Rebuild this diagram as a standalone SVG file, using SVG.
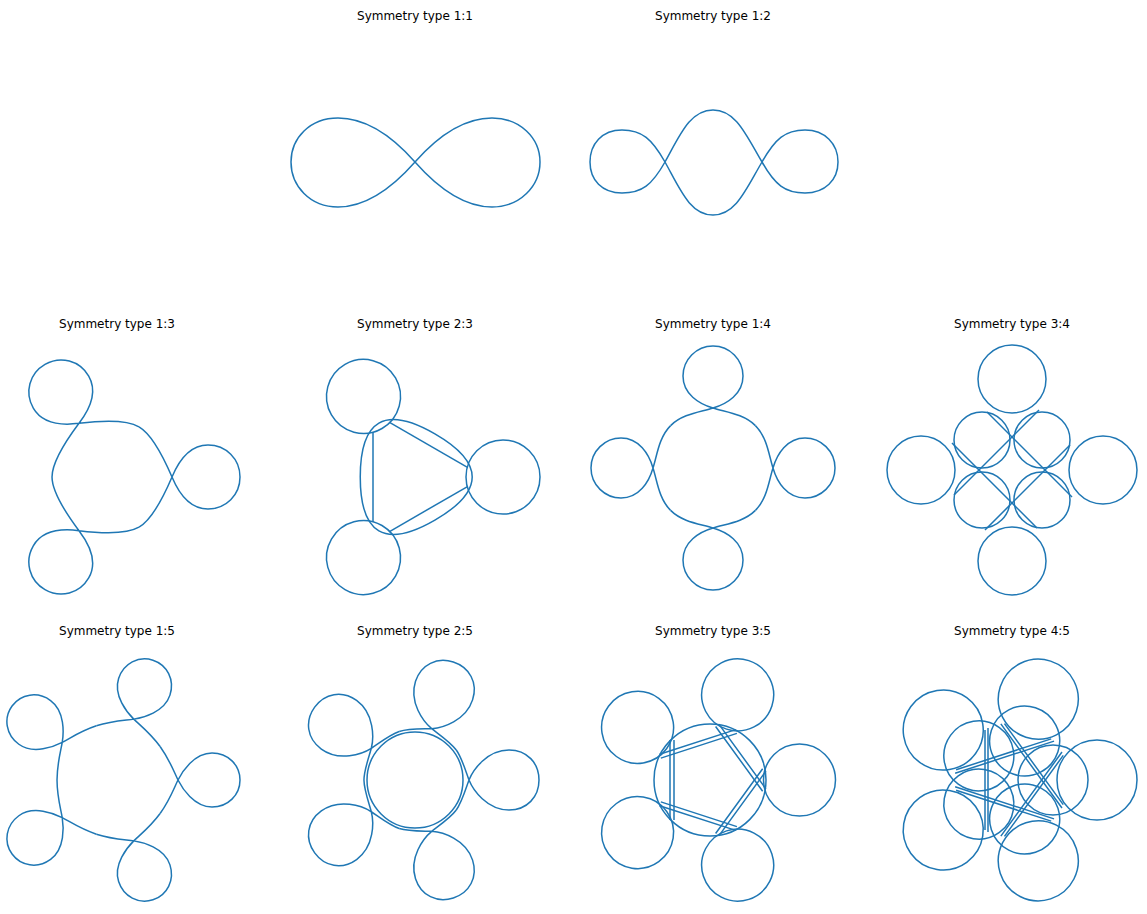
<svg xmlns="http://www.w3.org/2000/svg" xmlns:xlink="http://www.w3.org/1999/xlink" width="1147" height="914" viewBox="0 0 1147 914">
<style>
.c{fill:none;stroke:#1f77b4;stroke-width:1.5;stroke-linejoin:round}
.t{font-family:"DejaVu Sans",sans-serif;font-size:12px;text-anchor:middle;fill:#000}
</style>
<defs>
<path id="a13" d="M29,50.2 C44,41.5 56,14 62,0 C67,-12 78,-32 98,-32 C116,-32 130,-18 130,0 C130,18 116,32 98,32 C78,32 67,12 62,0 C56,-14 44,-41.5 29,-50.2"/>
<path id="a14" d="M42.4,42.4 C54.4,30.4 56,12 60,0 C64,-14 74,-30 92,-30 C108,-30 122,-17 122,0 C122,17 108,30 92,30 C74,30 64,14 60,0 C56,-12 54.4,-30.4 42.4,-42.4"/>
<path id="a15" d="M46.1,33.5 C56,19.7 60,8 64,0 C68,-8 80,-27 98,-27 C114,-27 126,-15 126,0 C126,15 114,27 98,27 C80,27 68,8 64,0 C60,-8 56,-19.7 46.1,-33.5"/>
<path id="a25" d="M41.3,30 C47,22 51,8 54,0 C58,-10 72,-30 94,-30 C112,-30 124,-17 124,0 C124,17 112,30 94,30 C72,30 58,10 54,0 C51,-8 47,-22 41.3,-30"/>
<g id="u23"><circle cx="93" cy="0" r="37"/><path d="M-37,-45 L-37,45"/></g>
<g id="u34"><circle cx="91" cy="0" r="34"/><circle cx="30" cy="30" r="28"/><path d="M-25,-58 L60,27"/></g>
<g id="u35"><circle cx="89.5" cy="0" r="36"/><path d="M-36,-40 L-36,40 M-40,-40 L-40,40"/></g>
<g id="u45"><circle cx="85" cy="0" r="40"/><circle cx="41" cy="0" r="35"/><path d="M-24,-52 L-24,52 M-27,-50 L-27,50"/></g>
</defs>
<g id="titles">
<text class="t" x="415" y="20">Symmetry type 1:1</text>
<text class="t" x="713" y="20">Symmetry type 1:2</text>
<text class="t" x="117" y="328">Symmetry type 1:3</text>
<text class="t" x="415" y="328">Symmetry type 2:3</text>
<text class="t" x="713" y="328">Symmetry type 1:4</text>
<text class="t" x="1012" y="328">Symmetry type 3:4</text>
<text class="t" x="117" y="635">Symmetry type 1:5</text>
<text class="t" x="415" y="635">Symmetry type 2:5</text>
<text class="t" x="713" y="635">Symmetry type 3:5</text>
<text class="t" x="1012" y="635">Symmetry type 4:5</text>
</g>
<g id="p11" class="c"><path d="M415,162 C445,128 470,118 492,118 C520,118 540,138 540,162 C540,186 520,207 492,207 C470,207 445,196 415,162 C385,128 360,118 338,118 C310,118 291,138 291,162 C291,186 310,207 338,207 C360,207 385,196 415,162 Z"/></g>
<g id="p12" class="c"><path d="M665,162 C680,135 690,110 713,110 C736,110 746,135 762,162 C775,185 785,193 805,193 C825,193 838,180 838,162 C838,144 825,130 805,130 C785,130 775,139 762,162 C746,189 736,215 713,215 C690,215 680,189 665,162 C652,139 642,130 622,130 C602,130 590,144 590,162 C590,180 602,193 622,193 C642,193 652,185 665,162 Z"/></g>
<g id="p13" class="c" transform="translate(110,477)"><use xlink:href="#a13"/><use xlink:href="#a13" transform="rotate(120)"/><use xlink:href="#a13" transform="rotate(240)"/></g>
<g id="p23" class="c" transform="translate(410,477)"><use xlink:href="#u23"/><use xlink:href="#u23" transform="rotate(120)"/><use xlink:href="#u23" transform="rotate(240)"/>
<path d="M24.9,43.1 Q-49.75,86.2 -49.75,0 Q-49.75,-86.2 24.9,-43.1 Q99.5,0 24.9,43.1 Z"/></g>
<g id="p14" class="c" transform="translate(713,468)"><use xlink:href="#a14"/><use xlink:href="#a14" transform="rotate(90)"/><use xlink:href="#a14" transform="rotate(180)"/><use xlink:href="#a14" transform="rotate(270)"/></g>
<g id="p34" class="c" transform="translate(1012,470)"><use xlink:href="#u34"/><use xlink:href="#u34" transform="rotate(90)"/><use xlink:href="#u34" transform="rotate(180)"/><use xlink:href="#u34" transform="rotate(270)"/></g>
<g id="p15" class="c" transform="translate(114,780)"><use xlink:href="#a15"/><use xlink:href="#a15" transform="rotate(72)"/><use xlink:href="#a15" transform="rotate(144)"/><use xlink:href="#a15" transform="rotate(216)"/><use xlink:href="#a15" transform="rotate(288)"/></g>
<g id="p25" class="c" transform="translate(415,780)"><use xlink:href="#a25"/><use xlink:href="#a25" transform="rotate(72)"/><use xlink:href="#a25" transform="rotate(144)"/><use xlink:href="#a25" transform="rotate(216)"/><use xlink:href="#a25" transform="rotate(288)"/><circle r="48"/></g>
<g id="p35" class="c" transform="translate(710,780)"><use xlink:href="#u35"/><use xlink:href="#u35" transform="rotate(72)"/><use xlink:href="#u35" transform="rotate(144)"/><use xlink:href="#u35" transform="rotate(216)"/><use xlink:href="#u35" transform="rotate(288)"/><circle r="56"/></g>
<g id="p45" class="c" transform="translate(1012,780)"><use xlink:href="#u45"/><use xlink:href="#u45" transform="rotate(72)"/><use xlink:href="#u45" transform="rotate(144)"/><use xlink:href="#u45" transform="rotate(216)"/><use xlink:href="#u45" transform="rotate(288)"/></g>
</svg>
